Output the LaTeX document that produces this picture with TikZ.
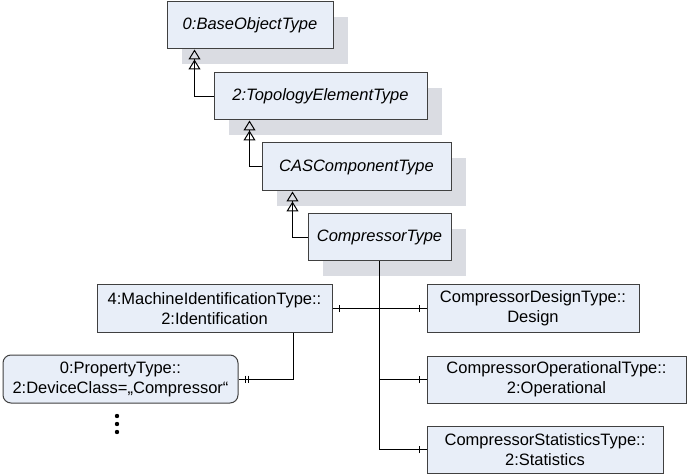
\documentclass[tikz,border=0pt]{standalone}
\usepackage{fontspec}
\setmainfont{Liberation Sans}
\usepackage{tikz}
\usetikzlibrary{arrows.meta,shadows,decorations.markings}
\definecolor{boxfill}{RGB}{232,238,248}
\definecolor{boxshade}{RGB}{218,220,226}
\definecolor{boxline}{RGB}{64,64,64}

\begin{document}
\begin{tikzpicture}[x=1pt, y=-1pt, font=\fontsize{16.5}{20}\selectfont,
  box/.style={draw=boxline, line width=1pt, fill=boxfill, inner sep=2pt, align=center, minimum height=47pt, minimum width=#1},
  box/.default=200pt,
  typ/.style={box=#1, font=\fontsize{16.5}{20}\selectfont\itshape,
    general shadow={fill=boxshade, shadow xshift=15pt, shadow yshift=-15pt}},
  propbox/.style={box=#1, rounded corners=8pt, minimum height=48pt},
  link/.style={line width=1pt},
  inherit/.style={link, -{Triangle[open, length=10pt, width=12pt, sep=0pt] Triangle[open, length=10pt, width=12pt, sep=0pt]}},
  tick/.style={postaction={decorate, decoration={markings,
    mark=at position #1 with {\draw[line width=.8pt] (0,-3.5pt) -- (0,3.5pt);}}}}]
  \useasboundingbox (0,0) rectangle (689,476);
  \node[typ=166pt] (base) at (250,25.5) {0:BaseObjectType};
  \node[typ=213pt] (topo) at (320.5,96.5) {2:TopologyElementType};
  \node[typ=189pt, minimum height=48pt] (cas) at (356.5,167) {CASComponentType};
  \node[typ=143pt] (comp) at (379.5,237.5) {CompressorType};
  \node[box=235pt] (ident) at (214.5,308.5) {4:MachineIdentificationType::\\2:Identification};
  \node[box=212pt] (design) at (533,308.5) {CompressorDesignType::\\Design};
  \node[box=259pt] (oper) at (556.5,379.5) {CompressorOperationalType::\\2:Operational};
  \node[box=236pt] (stats) at (545,449.5) {CompressorStatisticsType::\\2:Statistics};
  \node[propbox=235pt] (prop) at (120.5,379) {0:PropertyType::\\2:DeviceClass=„Compressor“};
  \foreach \y in {416,424,432} \fill (117,\y) circle (2.2pt);
  % edges
  \draw[inherit] (topo.west) -| ([xshift=28pt]base.south west);
  \draw[inherit] (cas.west) -| ([xshift=36pt]topo.south west);
  \draw[inherit] (comp.west) -| ([xshift=31pt]cas.south west);
  \draw[link, tick=-7pt] (comp.south) |- (stats.west);
  \draw[link, tick=-7pt] (comp.south |- oper.west) -- (oper.west);
  \draw[link, tick=7pt, tick=-7pt] (ident.east) -- (design.west);
  \draw[link, tick=-7pt, tick=-10pt] ([xshift=-39pt]ident.south east) |- (prop.east);
\end{tikzpicture}
\end{document}
